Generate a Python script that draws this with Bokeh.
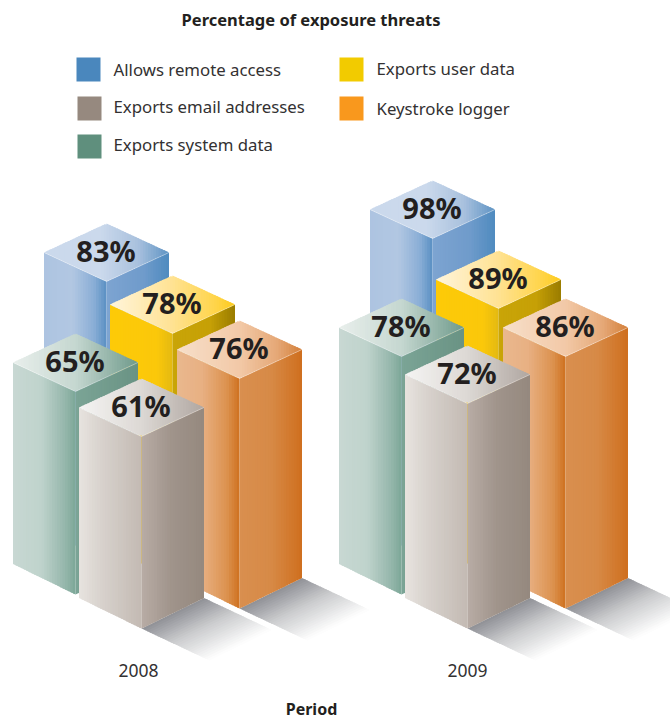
from bokeh.plotting import figure
from bokeh.models import Range1d
from bokeh.core.properties import value
from bokeh.embed import file_html
from bokeh.resources import INLINE

# ---- data ----
title = "Percentage of exposure threats"
x_title = "Period"
periods = ["2008", "2009"]
series = ["Allows remote access", "Exports user data", "Exports system data",
          "Keystroke logger", "Exports email addresses"]
allows_remote_access = [83, 98]
exports_user_data = [78, 89]
exports_system_data = [65, 78]
keystroke_logger = [76, 86]
exports_email_addresses = [61, 72]
values = [allows_remote_access, exports_user_data, exports_system_data,
          keystroke_logger, exports_email_addresses]

# ---- layout (pixels) ----
W, H = 670, 719
PX = 2.6                # pixels per percentage point
HW, HH = 62.5, 29       # half sizes of the top diamond
BH = 30.5               # bottom edge drop
period_dx = [0, 326]
front_x = [106, 172, 75, 239, 141]
base_px = [494.8, 537.6, 559.4, 577.6, 592.4]     # pixel height of the 0 % level per series
foot_y = [560, 578, 594, 608, 628]                # pixel y of each bar's front foot
# the illustration's drawn heights stray slightly from a straight scale
top_nudge = [[2, -2], [-1.8, 1.8], [.6, -.6], [-2, 2], [2.2, -2.2]]

LEFT = [
    [(0, "#adc4e1"), (.45, "#b2c7e2"), (.8, "#8aaed6"), (1, "#5a90c3")],
    [(0, "#fdca08"), (.75, "#fbc80a"), (1, "#e3b912")],
    [(0, "#c8d8d3"), (.45, "#bfd3cc"), (.85, "#93b5aa"), (1, "#7ca797")],
    [(0, "#e9b88e"), (.4, "#e8b083"), (.8, "#dc924f"), (1, "#cf701f")],
    [(0, "#e7e3df"), (.35, "#d8d2cd"), (1, "#c3bab3")],
]
RIGHT = [
    [(0, "#7ea4d1"), (.6, "#6f9bcb"), (1, "#4f8bbf")],
    [(0, "#c9a507"), (.6, "#c6a006"), (1, "#9a7c00")],
    [(0, "#7ba496"), (1, "#6a9384")],
    [(0, "#d98f4f"), (.5, "#d78a47"), (1, "#cf6f1e")],
    [(0, "#b8aca5"), (.5, "#9f938a"), (1, "#95897f")],
]
TOP = [
    [(0, "#cbd9ec"), (.45, "#cbd9ec"), (.75, "#a9c1de"), (1, "#5f94c4")],
    [(0, "#fff5dc"), (.5, "#ffe292"), (.85, "#ffd448"), (1, "#fdcb1c")],
    [(0, "#e9efec"), (.5, "#c5d7d0"), (1, "#6f9a8b")],
    [(0, "#f7dfca"), (.5, "#f2c9a7"), (.8, "#e5a877"), (1, "#d4803a")],
    [(0, "#f5f4f3"), (.5, "#dcd8d4"), (1, "#b0a7a1")],
]
SHADOW = [(0, "#8f9096"), (.45, "#cbccce"), (1, "#ffffff")]

TEXT = "#333132"
LABEL = "#231f20"
FONT = "Noto Sans"

legend_items = [
    ("Allows remote access", "#4a87bd", 76, 57, 113, 69),
    ("Exports email addresses", "#96897f", 77, 96, 113, 106),
    ("Exports system data", "#5f8f7d", 77, 134, 113, 144),
    ("Exports user data", "#f2cb00", 339, 57, 376, 68),
    ("Keystroke logger", "#f9981d", 339, 96, 376, 108),
]


def to_y(py):
    return (H - py) / PX


def lerp(stops, t):
    for (a, ca), (b, cb) in zip(stops, stops[1:]):
        if t <= b:
            f = 0 if b == a else (t - a) / (b - a)
            rgb = [int(ca[i:i + 2], 16) * (1 - f) + int(cb[i:i + 2], 16) * f for i in (1, 3, 5)]
            return "#%02x%02x%02x" % tuple(round(c) for c in rgb)
    return stops[-1][1]


def front_top(s, j):
    return base_px[s] + top_nudge[s][j] - values[s][j] * PX


p = figure(width=W, height=H, x_range=Range1d(0, W), y_range=Range1d(0, H / PX),
           toolbar_location=None, output_backend="svg", min_border=0,
           margin=0, outline_line_color=None)
p.axis.visible = False
p.grid.visible = False
p.background_fill_color = "white"
p.border_fill_color = "white"

xs, ys, cols = [], [], []


def add(poly, col):
    xs.append([q[0] for q in poly])
    ys.append([to_y(q[1]) for q in poly])
    cols.append(col)


def shadow(fx, fy):
    n = 26
    dx, dy = 68, 32
    for i in range(n):
        a, b = i / n, min(1, (i + 1.5) / n)
        add([(fx + a * dx, fy + a * dy), (fx + HW + a * dx, fy - BH + a * dy),
             (fx + HW + b * dx, fy - BH + b * dy), (fx + b * dx, fy + b * dy)],
            lerp(SHADOW, (i + .5) / n))


def strips(x0, x1, ytop, ybot, stops, n=24):
    for i in range(n):
        a = x0 + (x1 - x0) * i / n
        b = min(x1, x0 + (x1 - x0) * (i + 1.6) / n)
        add([(a, ytop(a)), (b, ytop(b)), (b, ybot(b)), (a, ybot(a))], lerp(stops, (i + .5) / n))


def bar(s, j, fx, fy):
    ft = front_top(s, j)
    k = HH / HW
    kb = BH / HW
    strips(fx - HW, fx, lambda x: ft - (fx - x) * k, lambda x: fy - (fx - x) * kb, LEFT[s])
    strips(fx, fx + HW, lambda x: ft - (x - fx) * k, lambda x: fy - (x - fx) * kb, RIGHT[s])
    strips(fx - HW, fx + HW,
           lambda x: ft - 2 * HH + abs(x - fx) * k,
           lambda x: ft - abs(x - fx) * k, TOP[s], n=48)


for dx in period_dx:
    for s in (3, 4):
        shadow(front_x[s] + dx, foot_y[s])

for j, dx in enumerate(period_dx):
    for s in range(5):
        bar(s, j, front_x[s] + dx, foot_y[s])

p.patches(xs, ys, fill_color=cols, line_color=None)

# light edges where the top faces meet the sides
for j, dx in enumerate(period_dx):
    for s in range(5):
        fx = front_x[s] + dx
        ft = front_top(s, j)
        p.line([fx - HW, fx, fx + HW], [to_y(ft - HH), to_y(ft), to_y(ft - HH)],
               line_color="white", line_alpha=.45, line_width=.8)

lx, ly, lt = [], [], []
for j, dx in enumerate(period_dx):
    for s in range(5):
        lx.append(front_x[s] + dx - 0.5)
        ly.append(to_y(front_top(s, j) - HH - 2))
        lt.append(f"{values[s][j]}%")
p.text(lx, ly, text=lt, text_font=value(FONT), text_font_size="29px", text_font_style="bold",
       text_color=LABEL, text_align="center", text_baseline="middle")

for name, col, sx, sy, tx, ty in legend_items:
    p.quad(left=sx, right=sx + 24, top=to_y(sy), bottom=to_y(sy + 24), fill_color=col, line_color=None)
    p.text([tx], [to_y(ty)], text=[name], text_font=value(FONT), text_font_size="16.8px",
           text_color=TEXT, text_align="left", text_baseline="middle")

p.text([310.5], [to_y(19)], text=[title], text_font=value(FONT), text_font_size="16.5px",
       text_font_style="bold", text_color=LABEL, text_align="center", text_baseline="middle")
p.text([138, 467], [to_y(670)] * 2, text=periods, text_font=value(FONT), text_font_size="17.5px",
       text_color=TEXT, text_align="center", text_baseline="middle")
p.text([311], [to_y(708)], text=[x_title], text_font=value(FONT), text_font_size="16px",
       text_font_style="bold", text_color=LABEL, text_align="center", text_baseline="middle")

open("out.html", "w").write(file_html(p, INLINE))
